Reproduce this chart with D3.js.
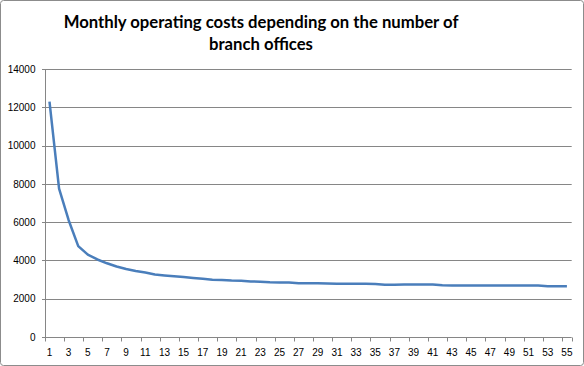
<!DOCTYPE html>
<html><head><meta charset="utf-8">
<script src="https://cdn.jsdelivr.net/npm/d3@7"></script>
<style>body{margin:0;background:#fff;}svg{display:block;}</style>
</head><body>
<svg id="c" width="584" height="366"></svg>
<script>
const titleLines = ["Monthly operating costs depending on the number of", "branch offices"];
const categories = d3.range(1, 56);
const costs = [12300, 7750, 6100, 4750, 4300, 4050, 3850, 3680, 3550, 3450,
  3370, 3260, 3210, 3170, 3130, 3080, 3040, 2990, 2980, 2950,
  2940, 2900, 2890, 2860, 2850, 2850, 2810, 2810, 2810, 2800,
  2780, 2780, 2780, 2780, 2770, 2730, 2730, 2740, 2740, 2740,
  2740, 2700, 2690, 2690, 2690, 2690, 2690, 2690, 2690, 2690,
  2690, 2690, 2650, 2650, 2650];
const yTicks = [0, 2000, 4000, 6000, 8000, 10000, 12000, 14000];

const svg = d3.select("#c");
const m = {l: 44.7, r: 571.7, t: 69, b: 337};

svg.append("rect").attr("x", 0.5).attr("y", 0.5).attr("width", 583).attr("height", 365)
  .attr("rx", 3).attr("fill", "#fff").attr("stroke", "#8c8c8c");

const x = d3.scaleBand().domain(categories).range([m.l, m.r]).padding(0);
const y = d3.scaleLinear().domain([0, 14000]).range([m.b, m.t]);

// gridlines
svg.append("g").selectAll("line").data(yTicks.filter(d => d > 0)).join("line")
  .attr("x1", m.l).attr("x2", m.r).attr("y1", d => Math.round(y(d)) + 0.5).attr("y2", d => Math.round(y(d)) + 0.5)
  .attr("stroke", "#868686").attr("stroke-width", 1);

// y axis
const ya = svg.append("g").attr("transform", `translate(${Math.round(m.l) + 0.5},0)`)
  .call(d3.axisLeft(y).tickValues(yTicks).tickSize(4).tickPadding(6).tickFormat(d3.format("d")));
ya.selectAll("path,line").attr("stroke", "#868686").attr("shape-rendering", "crispEdges");
ya.select(".domain").attr("d", `M0,${m.t}V${m.b}`);
ya.selectAll("text").attr("font-family", "'Liberation Sans', Arial, sans-serif").attr("font-size", 10).attr("fill", "#000");

// x axis
const xg = svg.append("g").attr("transform", `translate(0,${Math.round(m.b) + 0.5})`);
xg.append("line").attr("x1", m.l).attr("x2", m.r).attr("stroke", "#868686");
const bounds = categories.filter((d, i) => i % 2 === 0).map(d => x(d)).concat([m.r]);
xg.selectAll("line.t").data(bounds).join("line").attr("class", "t")
  .attr("x1", d => Math.round(d) + 0.5).attr("x2", d => Math.round(d) + 0.5).attr("y1", 0).attr("y2", 4)
  .attr("stroke", "#868686");
xg.selectAll("text").data(categories.filter((d, i) => i % 2 === 0)).join("text")
  .attr("x", d => x(d) + x.bandwidth() / 2).attr("y", 18).attr("text-anchor", "middle")
  .attr("font-family", "'Liberation Sans', Arial, sans-serif").attr("font-size", 10).attr("fill", "#000")
  .text(d => d);

// line
const line = d3.line().x((d, i) => x(categories[i]) + x.bandwidth() / 2).y(d => y(d));
svg.append("path").datum(costs).attr("d", line).attr("fill", "none")
  .attr("stroke", "#4a7ebb").attr("stroke-width", 2.5).attr("stroke-linejoin", "round");

// title
const tl = svg.append("g").selectAll("text").data(titleLines).join("text")
  .attr("x", 261).attr("y", (d, i) => 28 + i * 22).attr("text-anchor", "middle")
  .attr("font-family", "Lato, 'Open Sans', sans-serif").attr("font-weight", "bold").attr("font-size", 18)
  .attr("fill", "#000").text(d => d);
const w0 = tl.nodes()[0].getComputedTextLength();
tl.attr("font-size", 18 * 395 / w0);
</script>
</body></html>
